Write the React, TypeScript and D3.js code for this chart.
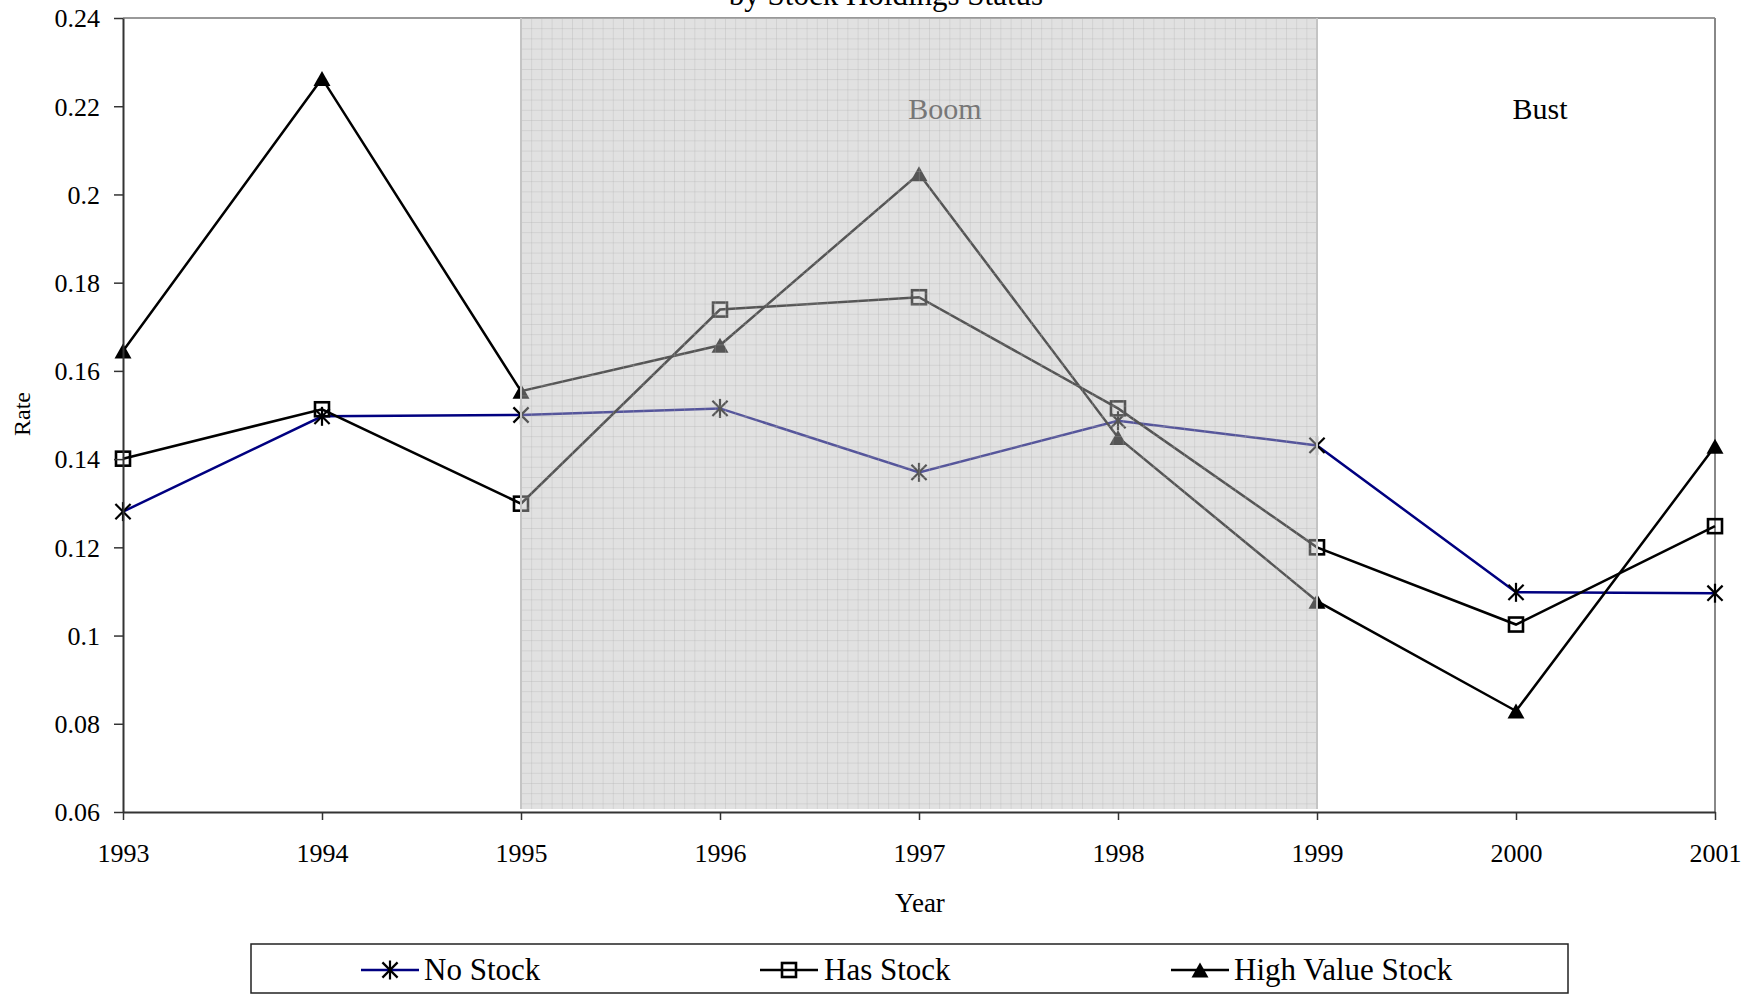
import React, { useEffect, useRef } from "react";
import * as d3 from "d3";

// Annual rates by stock holdings status
const years = [1993, 1994, 1995, 1996, 1997, 1998, 1999, 2000, 2001];
const noStock = [0.1281, 0.1497, 0.15, 0.1515, 0.137, 0.1487, 0.1431, 0.1098, 0.1096];
const hasStock = [0.1401, 0.1513, 0.1299, 0.1739, 0.1767, 0.1515, 0.12, 0.1025, 0.1248];
const highValue = [0.1645, 0.2263, 0.1554, 0.1658, 0.2047, 0.1449, 0.1078, 0.0829, 0.1429];

const yTicks = [0.06, 0.08, 0.1, 0.12, 0.14, 0.16, 0.18, 0.2, 0.22, 0.24];
const yTickLabels = ["0.06", "0.08", "0.1", "0.12", "0.14", "0.16", "0.18", "0.2", "0.22", "0.24"];

const boomPeriod = [1995, 1999];

const seriesNames = ["No Stock", "Has Stock", "High Value Stock"];

const W = 1756;
const H = 995;
const FONT = "'Liberation Serif', 'Times New Roman', Times, serif";

const left = 123;
const right = 1715;
const top = 18;
const bottom = 812;

type Marker = "star" | "square" | "triangle";

function MarkerShape({ kind, x, y, color }: { kind: Marker; x: number; y: number; color: string }) {
  if (kind === "star") {
    const r = 9.5;
    const d = r * 0.8;
    return (
      <g stroke={color} strokeWidth={2.2}>
        <line x1={x - d} y1={y - d} x2={x + d} y2={y + d} />
        <line x1={x - d} y1={y + d} x2={x + d} y2={y - d} />
        <line x1={x} y1={y - r} x2={x} y2={y + r} />
      </g>
    );
  }
  if (kind === "square") {
    const s = 14;
    return (
      <rect x={x - s / 2} y={y - s / 2} width={s} height={s} fill="#ffffff" fillOpacity={0} stroke={color} strokeWidth={2.6} />
    );
  }
  const w = 17;
  const h = 15;
  return (
    <path d={`M${x},${y - h / 2}L${x + w / 2},${y + h / 2}L${x - w / 2},${y + h / 2}Z`} fill={color} />
  );
}

export default function App() {
  const xAxisRef = useRef<SVGGElement>(null);
  const yAxisRef = useRef<SVGGElement>(null);

  const x = d3.scaleLinear().domain([years[0], years[years.length - 1]]).range([left, right]);
  const y = d3.scaleLinear().domain([0.06, 0.24]).range([bottom, top]);

  useEffect(() => {
    if (yAxisRef.current) {
      const g = d3.select(yAxisRef.current);
      g.call(
        d3
          .axisLeft(y)
          .tickValues(yTicks)
          .tickSize(9)
          .tickSizeOuter(0)
          .tickPadding(14)
          .tickFormat((d, i) => yTickLabels[i])
      );
      g.select(".domain").attr("stroke", "#333").attr("stroke-width", 2);
      g.selectAll(".tick line").attr("stroke", "#333").attr("stroke-width", 1.5);
      g.selectAll(".tick text")
        .attr("font-family", FONT)
        .attr("font-size", 26)
        .attr("fill", "#000")
        .attr("dy", "0.34em");
    }
    if (xAxisRef.current) {
      const g = d3.select(xAxisRef.current);
      g.call(
        d3
          .axisBottom(x)
          .tickValues(years)
          .tickSize(8)
          .tickSizeOuter(0)
          .tickFormat((d) => String(d))
      );
      g.select(".domain").attr("stroke", "#333").attr("stroke-width", 2);
      g.selectAll(".tick line").attr("stroke", "#333").attr("stroke-width", 1.5);
      g.selectAll(".tick text")
        .attr("font-family", FONT)
        .attr("font-size", 26)
        .attr("fill", "#000")
        .attr("y", 50)
        .attr("dy", 0);
    }
  }, []);

  const line = d3
    .line<number>()
    .x((_, i) => x(years[i]))
    .y((d) => y(d));

  const series: { name: string; values: number[]; color: string; marker: Marker; markerColor: string }[] = [
    { name: seriesNames[0], values: noStock, color: "#000080", marker: "star", markerColor: "#000" },
    { name: seriesNames[1], values: hasStock, color: "#000", marker: "square", markerColor: "#000" },
    { name: seriesNames[2], values: highValue, color: "#000", marker: "triangle", markerColor: "#000" },
  ];

  const boomX0 = x(boomPeriod[0]);
  const boomX1 = x(boomPeriod[1]);

  const legendItems = [
    { x1: 361, tx: 424 },
    { x1: 760, tx: 824 },
    { x1: 1171, tx: 1234 },
  ];
  const legendY = 970;

  return (
    <svg
      width={W}
      height={H}
      viewBox={`0 0 ${W} ${H}`}
      style={{ position: "absolute", left: 0, top: 0, display: "block", background: "#fff" }}
    >
      <defs>
        <pattern id="boomGrid" width={10.2} height={10.2} patternUnits="userSpaceOnUse" x={boomX0} y={top}>
          <line x1={0} y1={0} x2={10.2} y2={0} stroke="#a8a8a8" strokeOpacity={0.55} strokeWidth={1} />
          <line x1={0} y1={0} x2={0} y2={10.2} stroke="#a8a8a8" strokeOpacity={0.55} strokeWidth={1} />
        </pattern>
      </defs>

      {/* title (second line) */}
      <text x={886} y={5} textAnchor="middle" fontFamily={FONT} fontSize={31} fill="#000">
        by Stock Holdings Status
      </text>

      {/* plot frame: top and right edges */}
      <line x1={left} y1={top} x2={right} y2={top} stroke="#999" strokeWidth={2} />
      <line x1={right} y1={top} x2={right} y2={bottom} stroke="#888" strokeWidth={2} />

      {/* series lines and markers */}
      {series.map((s) => (
        <g key={s.name}>
          <path d={line(s.values) || ""} fill="none" stroke={s.color} strokeWidth={2.5} />
          {s.values.map((v, i) => (
            <MarkerShape key={i} kind={s.marker} x={x(years[i])} y={y(v)} color={s.markerColor} />
          ))}
        </g>
      ))}

      {/* boom period shading */}
      <g>
        <rect x={boomX0} y={top} width={boomX1 - boomX0} height={bottom - top - 3} fill="rgb(188,188,188)" fillOpacity={0.45} />
        <rect x={boomX0} y={top} width={boomX1 - boomX0} height={bottom - top - 3} fill="url(#boomGrid)" />
        <line x1={boomX0} y1={top} x2={boomX0} y2={bottom - 3} stroke="#c4c4c4" strokeWidth={2} />
        <line x1={boomX1} y1={top} x2={boomX1} y2={bottom - 3} stroke="#c4c4c4" strokeWidth={2} />
      </g>

      <text x={945} y={119} textAnchor="middle" fontFamily={FONT} fontSize={30} fill="#777">
        Boom
      </text>
      <text x={1540} y={119} textAnchor="middle" fontFamily={FONT} fontSize={30} fill="#000">
        Bust
      </text>

      {/* axes */}
      <g ref={yAxisRef} transform={`translate(${left},0)`} />
      <g ref={xAxisRef} transform={`translate(0,${bottom})`} />

      <text x={920} y={912} textAnchor="middle" fontFamily={FONT} fontSize={27} fill="#000">
        Year
      </text>
      <text
        transform={`translate(30,414) rotate(-90)`}
        textAnchor="middle"
        fontFamily={FONT}
        fontSize={24}
        fill="#000"
      >
        Rate
      </text>

      {/* legend */}
      <rect x={251} y={944} width={1568 - 251} height={49} fill="#fff" stroke="#222" strokeWidth={1.5} />
      {series.map((s, i) => {
        const it = legendItems[i];
        const cx = it.x1 + 29;
        return (
          <g key={s.name}>
            <line x1={it.x1} y1={legendY} x2={it.x1 + 58} y2={legendY} stroke={s.color} strokeWidth={2.5} />
            <MarkerShape kind={s.marker} x={cx} y={legendY} color={s.markerColor} />
            <text x={it.tx} y={980} fontFamily={FONT} fontSize={31} fill="#000">
              {s.name}
            </text>
          </g>
        );
      })}
    </svg>
  );
}
